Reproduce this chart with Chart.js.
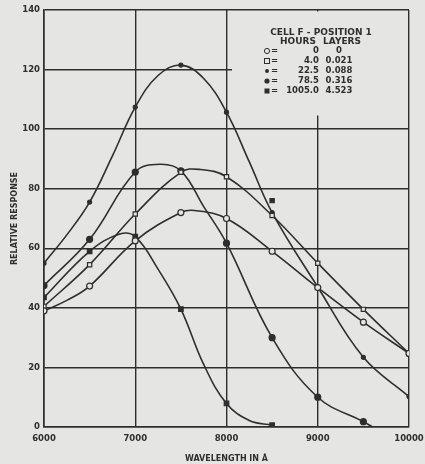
<!DOCTYPE html>
<html>
<head>
<meta charset="utf-8">
<script src="https://cdn.jsdelivr.net/npm/chart.js@4.4.1/dist/chart.umd.min.js"></script>
<style>
  html, body { margin: 0; padding: 0; background: #e5e5e3; }
  #wrap { width: 425px; height: 464px; }
</style>
</head>
<body>
<div id="wrap"><canvas id="resp"></canvas></div>
<script>
// wavelength (angstrom) and relative response
const waveA = [6000, 6250, 6500, 6750, 7000, 7250, 7500, 7750, 8000, 8250, 8500, 9000, 9500, 10000];
const respA = [55, 64.5, 75.5, 91, 107.4, 118, 121.5, 117, 105.7, 89, 72, 47, 23.4, 10.2];

const waveB = [6000, 6500, 7000, 7270, 7500, 7750, 8000, 8500, 9000, 9500, 9600];
const respB = [47.5, 63, 85.6, 88.2, 86, 74, 61.7, 30, 10, 1.8, 0];

const waveC = [6000, 6500, 6830, 7000, 7250, 7500, 7750, 8000, 8250, 8500];
const respC = [43.5, 59, 64.8, 63.9, 53, 39.6, 21, 7.9, 2.2, 0.6];

const waveD = [6000, 6500, 7000, 7500, 7700, 8000, 8500, 9000, 9500, 10000];
const respD = [40.5, 54.5, 71.5, 85.5, 86.5, 84, 71, 55, 39.5, 24.7];

const waveE = [6000, 6250, 6500, 7000, 7500, 7650, 8000, 8500, 9000, 9500, 10000];
const respE = [39, 42.5, 47.3, 62.5, 72, 72.7, 70, 59, 46.8, 35.2, 24.7];

// lone filled square near 8500
const waveX = [8500];
const respX = [76];

const xTicks = [6000, 7000, 8000, 9000, 10000];
const hoursCol = ['0', '4.0', '22.5', '78.5', '1005.0'];
const layersCol = ['0', '0.021', '0.088', '0.316', '4.523'];

const ink = '#2e2e2e';
const paper = '#e5e5e3';

function pts(xs, ys) {
  return xs.map((x, i) => ({ x: x, y: ys[i] }));
}
// markers only sit on the 500 A readings
function marks(r) {
  return c => (c.raw && c.raw.x % 500 === 0) ? r : 0;
}

function series(xs, ys, style, r, filled) {
  return {
    data: pts(xs, ys),
    borderColor: ink,
    borderWidth: 1.6,
    tension: 0.4,
    pointStyle: style,
    pointRadius: marks(r),
    pointBorderWidth: 1.2,
    pointBorderColor: ink,
    pointBackgroundColor: filled ? ink : paper
  };
}

// legend table drawn in the white box at top right
const cellTable = {
  id: 'cellTable',
  beforeDatasetsDraw(chart) {
    const { ctx, chartArea } = chart;
    const bx = chartArea.left + 188, by = chartArea.top + 1.5;
    const bw = chartArea.right - 1 - bx, bh = 104;
    ctx.save();
    ctx.fillStyle = paper;
    ctx.fillRect(bx, by, bw, bh);
    ctx.fillStyle = ink;
    ctx.strokeStyle = ink;
    ctx.textBaseline = 'middle';
    ctx.textAlign = 'center';
    ctx.font = 'bold 9px "DejaVu Sans"';
    ctx.fillText('CELL F - POSITION 1', bx + 89, by + 21);
    ctx.fillText('HOURS', bx + 66, by + 30);
    ctx.fillText('LAYERS', bx + 110, by + 30);
    ctx.font = 'bold 8.5px "DejaVu Sans"';
    const shapes = ['circle', 'rect', 'dot', 'circle', 'rect'];
    const fills = [false, false, true, true, true];
    for (let i = 0; i < hoursCol.length; i++) {
      const y = by + 39.5 + i * 10;
      const mx = bx + 35;
      ctx.lineWidth = 1;
      if (shapes[i] === 'rect') {
        if (fills[i]) ctx.fillRect(mx - 2.5, y - 2.5, 5, 5);
        else ctx.strokeRect(mx - 2.5, y - 2.5, 5, 5);
      } else {
        ctx.beginPath();
        ctx.arc(mx, y, shapes[i] === 'dot' ? 2 : 2.6, 0, Math.PI * 2);
        if (fills[i]) ctx.fill(); else ctx.stroke();
      }
      ctx.textAlign = 'left';
      ctx.fillText('=', mx + 4, y);
      ctx.textAlign = 'right';
      ctx.fillText(hoursCol[i], bx + 87, y);
      ctx.textAlign = 'center';
      ctx.fillText(layersCol[i], bx + 107, y);
    }
    ctx.restore();
  }
};

const tickFont = { family: 'DejaVu Sans', size: 8.5, weight: 'bold' };

new Chart(document.getElementById('resp'), {
  type: 'line',
  data: {
    datasets: [
      series(waveE, respE, 'circle', 3, false),
      series(waveD, respD, 'rect', 3, false),
      series(waveA, respA, 'circle', 2, true),
      series(waveB, respB, 'circle', 3, true),
      series(waveC, respC, 'rect', 3.2, true),
      Object.assign(series(waveX, respX, 'rect', 3, true), { showLine: false })
    ]
  },
  options: {
    responsive: true,
    maintainAspectRatio: false,
    animation: false,
    events: [],
    layout: { padding: { left: 0, right: 16, top: 10, bottom: 0 } },
    plugins: { legend: { display: false }, tooltip: { enabled: false } },
    scales: {
      x: {
        type: 'linear',
        min: 6000,
        max: 10000,
        afterFit: s => { s.height = 37; s.paddingLeft = 0; s.paddingRight = 0; },
        afterBuildTicks: s => { s.ticks = xTicks.map(v => ({ value: v })); },
        grid: { color: ink, lineWidth: 1.4, drawTicks: false },
        border: { color: ink, width: 1.6 },
        ticks: { color: ink, font: tickFont, padding: 7, maxRotation: 0, callback: v => String(v) },
        title: {
          display: true,
          text: 'WAVELENGTH IN Å',
          color: ink,
          font: { family: 'DejaVu Sans', size: 8, weight: 'bold' },
          padding: { top: 0, bottom: 0 }
        }
      },
      y: {
        min: 0,
        max: 140,
        afterFit: s => { s.width = 44; },
        grid: { color: ink, lineWidth: 1.4, drawTicks: false },
        border: { color: ink, width: 1.6 },
        ticks: { stepSize: 20, color: ink, font: tickFont, padding: 4 },
        title: {
          display: true,
          text: 'RELATIVE RESPONSE',
          color: ink,
          font: { family: 'DejaVu Sans', size: 8, weight: 'bold' },
          padding: { top: 10, bottom: 0 }
        }
      }
    }
  },
  plugins: [cellTable]
});
</script>
</body>
</html>
